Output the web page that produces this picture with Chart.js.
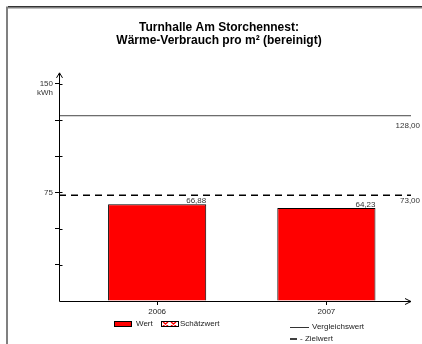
<!DOCTYPE html>
<html>
<head>
<meta charset="utf-8">
<script src="https://cdn.jsdelivr.net/npm/chart.js@4"></script>
<style>
  html, body { margin: 0; padding: 0; background: #fff; }
  #wrap { width: 422px; height: 344px; }
</style>
</head>
<body>
<div id="wrap"><canvas id="waermeChart" width="422" height="344"></canvas></div>
<script>
// data
const years = ['2006', '2007'];
const wert = [66.88, 64.23];
const vergleichswert = 128.00;
const zielwert = 73.00;
const yLabelled = [75, 150];

const xMin = 0.42, xMax = 2.5;
const fmt = v => v.toFixed(2).replace('.', ',');
const FONT = 'Liberation Sans, Arial, sans-serif';

/* frame, axes with arrows, crossing ticks */
const axisPlugin = {
  id: 'axisPlugin',
  beforeDraw(chart) {
    const c = chart.ctx;
    c.save();
    c.strokeStyle = '#808080';
    c.lineWidth = 2;
    c.beginPath();
    c.moveTo(7, 344); c.lineTo(7, 7.5); c.lineTo(422, 7.5);
    c.stroke();
    c.strokeStyle = '#333';
    c.lineWidth = 1;
    c.beginPath();
    c.moveTo(8, 6.5); c.lineTo(422, 6.5);
    c.stroke();
    c.restore();
  },
  afterDraw(chart) {
    const c = chart.ctx, a = chart.chartArea;
    const y = chart.scales.y;
    c.save();
    c.strokeStyle = '#000';
    c.lineWidth = 1;
    const x0 = Math.round(a.left) + 0.5;
    const y0 = Math.round(a.bottom) + 0.5;
    c.beginPath();
    // y axis
    c.moveTo(x0, y0); c.lineTo(x0, a.top - 11);
    c.moveTo(x0 - 3, a.top - 6); c.lineTo(x0, a.top - 11); c.lineTo(x0 + 3, a.top - 6);
    // x axis
    c.moveTo(x0, y0); c.lineTo(a.right, y0);
    c.moveTo(a.right - 6, y0 - 3); c.lineTo(a.right, y0); c.lineTo(a.right - 6, y0 + 3);
    // inward parts of y ticks
    y.ticks.forEach(t => {
      if (t.value === 0) return;
      const py = Math.round(y.getPixelForValue(t.value)) + 0.5;
      c.moveTo(x0, py); c.lineTo(x0 + 3, py);
    });
    c.stroke();
    // unit
    c.fillStyle = '#333';
    c.font = '8px ' + FONT;
    c.textAlign = 'right';
    c.textBaseline = 'middle';
    c.fillText('kWh', a.left - 6, y.getPixelForValue(150) + 9);
    c.restore();
  }
};

/* value labels and legend */
const labelPlugin = {
  id: 'labelPlugin',
  afterDatasetsDraw(chart) {
    const c = chart.ctx, a = chart.chartArea;
    c.save();
    c.font = '8px ' + FONT;
    c.fillStyle = '#333';
    // bar values
    chart.getDatasetMeta(0).data.forEach((bar, i) => {
      c.textAlign = 'right';
      c.textBaseline = 'bottom';
      c.fillText(fmt(wert[i]), bar.x + bar.width / 2, bar.y + 0.5);
    });
    // reference line values
    const y = chart.scales.y;
    c.textAlign = 'right';
    c.textBaseline = 'middle';
    c.fillText(fmt(vergleichswert), 420, y.getPixelForValue(vergleichswert) + 10);
    c.fillText(fmt(zielwert), 420, y.getPixelForValue(zielwert) + 5);

    // legend
    const ly = a.bottom + 23;
    c.textAlign = 'left';
    c.fillStyle = '#ff0000';
    c.fillRect(114, ly - 2.5, 17, 5);
    c.strokeStyle = '#000';
    c.lineWidth = 1;
    c.strokeRect(114.5, ly - 2.5, 17, 5);
    c.fillStyle = '#222';
    c.fillText('Wert', 136, ly);

    c.fillStyle = '#fff';
    c.fillRect(161, ly - 2.5, 17, 5);
    c.strokeStyle = '#ff0000';
    c.lineWidth = 1.5;
    c.beginPath();
    [163, 171].forEach(sx => {
      c.moveTo(sx, ly - 2); c.lineTo(sx + 5, ly + 2);
      c.moveTo(sx + 5, ly - 2); c.lineTo(sx, ly + 2);
    });
    c.stroke();
    c.strokeStyle = '#000';
    c.lineWidth = 1;
    c.strokeRect(161.5, ly - 2.5, 17, 5);
    c.fillStyle = '#222';
    c.fillText('Schätzwert', 180, ly);

    c.strokeStyle = '#333';
    c.beginPath();
    c.moveTo(290, ly + 3.5); c.lineTo(309, ly + 3.5);
    c.stroke();
    c.fillText('Vergleichswert', 312, ly + 3);

    c.lineWidth = 1.5;
    c.strokeStyle = '#000';
    c.beginPath();
    c.moveTo(290, ly + 15); c.lineTo(297, ly + 15);
    c.stroke();
    c.fillText('- Zielwert', 300, ly + 15);
    c.restore();
  }
};

const ctx = document.getElementById('waermeChart');

new Chart(ctx, {
  type: 'bar',
  data: {
    datasets: [
      {
        label: 'Wert',
        data: wert.map((v, i) => ({ x: i + 1, y: v })),
        backgroundColor: '#ff0000',
        borderColor: '#000',
        borderWidth: 1,
        barPercentage: 0.58,
        categoryPercentage: 1
      },
      {
        type: 'line',
        label: 'Vergleichswert',
        data: [{ x: xMin, y: vergleichswert }, { x: xMax, y: vergleichswert }],
        borderColor: '#444',
        borderWidth: 1,
        pointRadius: 0
      },
      {
        type: 'line',
        label: 'Zielwert',
        data: [{ x: xMin, y: zielwert }, { x: xMax, y: zielwert }],
        borderColor: '#000',
        borderWidth: 1.5,
        borderDash: [7, 5],
        pointRadius: 0
      }
    ]
  },
  options: {
    responsive: false,
    animation: false,
    layout: { padding: { left: 27, right: 11, top: 0, bottom: 0 } },
    plugins: {
      legend: { display: false },
      tooltip: { enabled: false },
      title: {
        display: true,
        text: ['Turnhalle Am Storchennest:', 'Wärme-Verbrauch pro m² (bereinigt)'],
        color: '#000',
        font: { family: FONT, size: 12, weight: 'bold', lineHeight: 1.12 },
        padding: { top: 21, bottom: 36 }
      }
    },
    scales: {
      x: {
        type: 'linear',
        min: xMin,
        max: xMax,
        offset: false,
        afterBuildTicks: s => { s.ticks = years.map((_, i) => ({ value: i + 1 })); },
        afterFit: s => { s.height = 43; },
        ticks: {
          callback: v => years[v - 1] || '',
          color: '#222',
          font: { family: FONT, size: 8 },
          padding: 2,
          maxRotation: 0
        },
        grid: { offset: false, drawOnChartArea: false, tickLength: 4, color: '#000' },
        border: { display: false }
      },
      y: {
        min: 0,
        max: 150,
        afterFit: s => { s.width = 32; },
        ticks: {
          stepSize: 25,
          callback: v => yLabelled.includes(v) ? String(v) : '',
          color: '#333',
          font: { family: FONT, size: 8 },
          padding: 2
        },
        grid: { drawOnChartArea: false, tickLength: 4, color: ctx => ctx.tick && ctx.tick.value === 0 ? 'rgba(0,0,0,0)' : '#000' },
        border: { display: false }
      }
    }
  },
  plugins: [axisPlugin, labelPlugin]
});
</script>
</body>
</html>
